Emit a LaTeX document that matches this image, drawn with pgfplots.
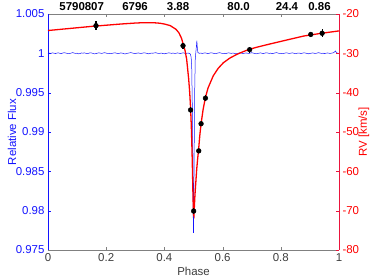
\documentclass[border=0pt]{standalone}
\usepackage{fontspec}
\setmainfont{Liberation Sans}
\usepackage{pgfplots}
\pgfplotsset{compat=1.18}
\definecolor{tickgray}{RGB}{60,60,60}
\definecolor{axgray}{RGB}{128,128,128}
\definecolor{fluxblue}{RGB}{20,20,255}
\definecolor{rvred}{RGB}{255,0,0}
\definecolor{rvaxis}{RGB}{235,20,60}
\newcommand{\fs}{\fontsize{11.5}{13}\selectfont}
\begin{document}
\begin{tikzpicture}
\useasboundingbox (-48bp,-29bp) rectangle (326bp,250bp);
\begin{axis}[at={(0,0)},anchor=south west, scale only axis, width=291bp, height=236bp,
  xmin=0,xmax=1,ymin=0.975,ymax=1.005,
  axis x line*=box, axis y line*=left,
  x axis line style={axgray,-}, y axis line style={fluxblue,-},
  tick align=inside, major tick length=3bp,
  xtick={0,0.2,0.4,0.6,0.8,1}, xticklabels={0,0.2,0.4,0.6,0.8,1},
  xtick style={axgray},
  ytick={0.975,0.98,0.985,0.99,0.995,1,1.005},
  yticklabels={0.975,0.98,0.985,0.99,0.995,1,1.005},
  ytick style={fluxblue},
  xticklabel style={tickgray,font=\fs},
  yticklabel style={fluxblue,font=\fs},
  xlabel={Phase}, ylabel={Relative Flux},
  every axis x label/.style={at={(rel axis cs:0.5,0)}, yshift=-21bp, anchor=center, font=\fs, tickgray},
  every axis y label/.style={at={(rel axis cs:0,0.5)}, xshift=-36bp, anchor=center, rotate=90, font=\fs, fluxblue},
]
\addplot[fluxblue, line width=0.5pt] table {
0.000 1.00000
0.005 1.00004
0.010 0.99998
0.015 1.00006
0.020 1.00003
0.025 0.99997
0.030 1.00002
0.035 1.00007
0.040 1.00001
0.045 0.99996
0.050 1.00003
0.055 1.00008
0.060 1.00005
0.065 1.00000
0.070 0.99995
0.075 0.99998
0.080 1.00004
0.085 1.00009
0.090 1.00003
0.095 0.99999
0.100 1.00002
0.105 0.99994
0.110 0.99997
0.115 1.00005
0.120 1.00002
0.125 1.00006
0.130 1.00000
0.135 0.99996
0.140 1.00001
0.145 1.00007
0.150 1.00004
0.155 0.99998
0.160 0.99993
0.165 0.99997
0.170 1.00003
0.175 1.00006
0.180 1.00002
0.185 0.99999
0.190 1.00005
0.195 1.00008
0.200 1.00003
0.205 0.99998
0.210 1.00001
0.215 0.99995
0.220 0.99999
0.225 1.00004
0.230 1.00007
0.235 1.00002
0.240 0.99997
0.245 1.00000
0.250 1.00005
0.255 1.00003
0.260 0.99996
0.265 0.99992
0.270 0.99998
0.275 1.00002
0.280 1.00006
0.285 1.00009
0.290 1.00004
0.295 1.00000
0.300 0.99997
0.305 1.00002
0.310 1.00005
0.315 1.00001
0.320 0.99998
0.325 1.00003
0.330 1.00007
0.335 1.00004
0.340 0.99999
0.345 0.99994
0.350 0.99998
0.355 1.00003
0.360 1.00001
0.365 1.00005
0.370 1.00008
0.375 1.00003
0.380 0.99998
0.385 1.00000
0.390 1.00004
0.395 0.99997
0.400 0.99994
0.405 0.99999
0.410 1.00002
0.415 1.00006
0.420 1.00003
0.425 1.00000
0.430 1.00004
0.435 0.99998
0.440 1.00001
0.445 1.00005
0.450 1.00002
0.455 0.99997
0.460 1.00003
0.465 1.00006
0.470 1.00001
0.475 0.99999
0.480 1.00004
0.485 1.00000
0.489 0.99992
0.492 0.99950
0.494 0.99800
0.496 0.99300
0.498 0.98500
0.4995 0.97720
0.5005 0.97720
0.502 0.98600
0.504 0.99500
0.506 0.99920
0.508 1.00010
0.510 1.00090
0.5115 1.00160
0.513 1.00080
0.515 1.00010
0.520 1.00000
0.525 1.00004
0.530 0.99998
0.535 1.00003
0.540 1.00006
0.545 1.00001
0.550 0.99997
0.555 1.00002
0.560 1.00007
0.565 1.00004
0.570 0.99999
0.575 0.99995
0.580 1.00000
0.585 1.00005
0.590 1.00008
0.595 1.00003
0.600 0.99998
0.605 1.00001
0.610 0.99996
0.615 1.00002
0.620 1.00006
0.625 1.00003
0.630 0.99999
0.635 1.00004
0.640 1.00000
0.645 0.99995
0.650 0.99998
0.655 1.00003
0.660 1.00007
0.665 1.00002
0.670 0.99997
0.675 1.00001
0.680 1.00005
0.685 1.00002
0.690 0.99998
0.695 1.00004
0.700 1.00008
0.705 1.00003
0.710 0.99999
0.715 0.99994
0.720 0.99998
0.725 1.00002
0.730 1.00006
0.735 1.00001
0.740 0.99997
0.745 1.00003
0.750 1.00007
0.755 1.00004
0.760 0.99999
0.765 1.00002
0.770 0.99996
0.775 1.00000
0.780 1.00005
0.785 1.00009
0.790 1.00004
0.795 0.99998
0.800 1.00001
0.805 0.99995
0.810 0.99999
0.815 1.00004
0.820 1.00007
0.825 1.00002
0.830 0.99998
0.835 1.00003
0.840 1.00006
0.845 1.00001
0.850 0.99996
0.855 1.00000
0.860 1.00004
0.865 1.00002
0.870 0.99997
0.875 1.00003
0.880 1.00007
0.885 1.00003
0.890 0.99999
0.895 0.99994
0.900 0.99998
0.905 1.00002
0.910 1.00005
0.915 1.00001
0.920 0.99998
0.925 1.00004
0.930 1.00008
0.935 1.00003
0.940 0.99999
0.945 1.00002
0.950 0.99997
0.955 1.00001
0.960 1.00005
0.965 1.00002
0.970 0.99998
0.975 1.00003
0.980 1.00006
0.985 1.00018
0.988 1.00030
0.991 1.00008
0.995 1.00002
1.000 1.00000
};
\end{axis}
\begin{axis}[at={(0,0)},anchor=south west, scale only axis, width=291bp, height=236bp,
  xmin=0,xmax=1,ymin=-80,ymax=-20, clip=false,
  axis x line=none, axis y line*=right,
  y axis line style={rvaxis,-},
  tick align=inside, major tick length=3bp,
  ytick={-80,-70,-60,-50,-40,-30,-20},
  yticklabels={-80,-70,-60,-50,-40,-30,-20},
  ytick style={rvaxis},
  yticklabel pos=right,
  yticklabel style={rvred,font=\fs},
  ylabel={RV [km/s]},
  every axis y label/.style={at={(rel axis cs:1,0.5)}, xshift=25bp, anchor=center, rotate=90, font=\fs, rvred},
]
\addplot[rvred, line width=1.3pt] table {
0.000 -24.2
0.050 -23.85
0.100 -23.5
0.150 -23.15
0.200 -22.85
0.250 -22.55
0.300 -22.3
0.330 -22.2
0.360 -22.2
0.385 -22.35
0.400 -22.55
0.420 -22.95
0.440 -23.9
0.450 -24.8
0.459 -26.2
0.465 -27.8
0.471 -29.3
0.4765 -31.5
0.4834 -36.5
0.487 -40.0
0.490 -44.0
0.4925 -48.5
0.4948 -54.5
0.4968 -61.0
0.4983 -66.5
0.5000 -71.0
0.5015 -71.3
0.5030 -69.0
0.5050 -66.0
0.5074 -63.4
0.5110 -59.5
0.5143 -56.8
0.5177 -54.3
0.5215 -51.0
0.5258 -48.0
0.5330 -44.3
0.5407 -41.3
0.5500 -38.8
0.5680 -35.7
0.5850 -33.8
0.6025 -32.4
0.6250 -31.2
0.6480 -30.3
0.6700 -29.6
0.6907 -29.0
0.7200 -28.4
0.7640 -27.6
0.8210 -26.6
0.8790 -25.6
0.9400 -24.9
1.0000 -24.3
};
\addplot[only marks, mark=*, black, mark size=2.4bp, mark options={fill=black},
  error bars/.cd, y dir=both, y explicit, error mark=none,
  error bar style={line width=1.1pt, black}]
  table[x=x, y=y, y error=e] {
x y e
0.165 -22.97 1.1
0.464 -28.06 0.8
0.490 -44.4 0.8
0.5005 -70.1 0.7
0.518 -54.8 0.6
0.526 -47.9 0.6
0.541 -41.4 0.7
0.693 -29.07 0.8
0.903 -25.2 0.6
0.942 -24.9 1.0
};
\node[font=\bfseries\fs, black, anchor=center, yshift=7.5bp] at (axis cs:0.1158,-20) {5790807};
\node[font=\bfseries\fs, black, anchor=center, yshift=7.5bp] at (axis cs:0.299,-20) {6796};
\node[font=\bfseries\fs, black, anchor=center, yshift=7.5bp] at (axis cs:0.447,-20) {3.88};
\node[font=\bfseries\fs, black, anchor=center, yshift=7.5bp] at (axis cs:0.655,-20) {80.0};
\node[font=\bfseries\fs, black, anchor=center, yshift=7.5bp] at (axis cs:0.821,-20) {24.4};
\node[font=\bfseries\fs, black, anchor=center, yshift=7.5bp] at (axis cs:0.933,-20) {0.86};
\end{axis}
\end{tikzpicture}
\end{document}
